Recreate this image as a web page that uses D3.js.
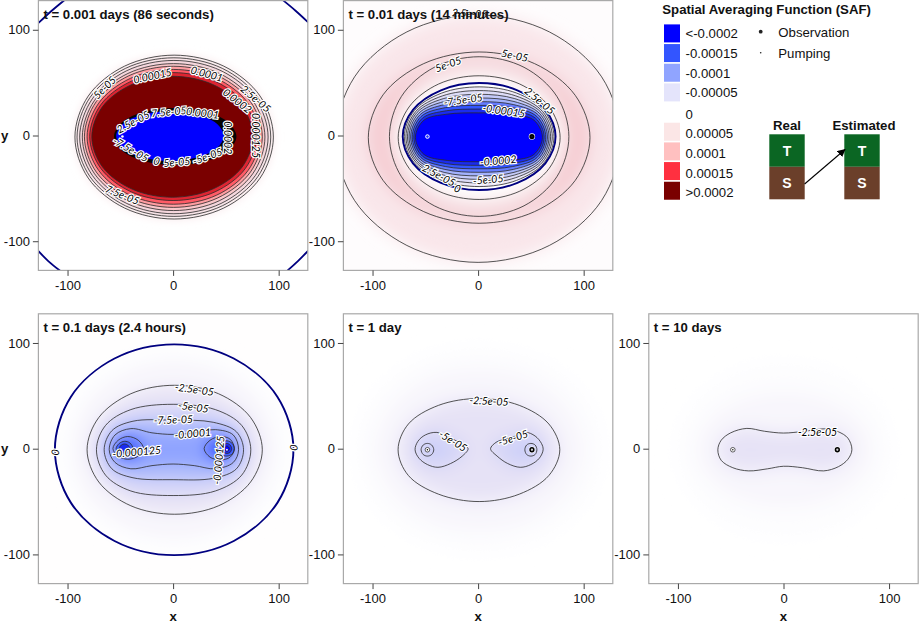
<!DOCTYPE html>
<html>
<head>
<meta charset="utf-8">
<script src="https://cdn.jsdelivr.net/npm/d3@7"></script>
<style>
  html, body { margin: 0; padding: 0; background: #fff; }
  svg { display: block; }
  text { font-family: "Liberation Sans", Arial, sans-serif; fill: #111; }
  .clabel { font-family: Lato, sans-serif; font-style: italic; font-size: 10.5px; fill: #000;
            stroke: #fff; stroke-width: 2.4px; paint-order: stroke; text-anchor: middle; dominant-baseline: central; }
  .tick text { font-size: 13px; }
</style>
</head>
<body>
<div id="chart"></div>
<script>
// axis
const xyDomain = [-127.6, 127.6];
const tickValues = [-100, 0, 100];

// legend
const legendLevels = ['<-0.0002', '-0.00015', '-0.0001', '-0.00005', '0', '0.00005', '0.0001', '0.00015', '>0.0002'];
const legendColors = ['#0000ff', '#3355ff', '#90a4ff', '#e4e4fb', '#ffffff', '#fbe6e6', '#ffc0c0', '#ff3040', '#7a0000'];

// SAF level -> colour for the field
const fieldLevels = [-2e-4, -1.75e-4, -1.5e-4, -1.25e-4, -1e-4, -7.5e-5, -5e-5, -2.5e-5, 0, 2.5e-5, 5e-5, 7.5e-5, 1e-4, 1.5e-4, 2e-4];
const fieldColors = ['#0000ff', '#1a2bf0', '#3355ff', '#5a72ff', '#95a8ff', '#b8c2fa', '#d6d6f8', '#e8e4f6', '#ffffff', '#f9e8eb', '#f5dbe0', '#f2cfd6', '#ffc0c0', '#ff3040', '#7a0000'];

// wells
const pumpingWell = [-48, -1];
const obsWell = [51, -1];

// t = 0.001 days, contours as [x, y]
const a25 = [[95,-1.5],[82.4,37.3],[48,65.6],[1,76],[-46,65.6],[-80.4,37.3],[-93,-1.5],[-80.4,-40.3],[-46,-68.6],[1,-79],[48,-68.6],[82.4,-40.3]];
const a50 = [[92.5,-1.5],[80.2,36],[46.6,63.5],[.75,73.5],[-45.1,63.5],[-78.7,36],[-91,-1.5],[-78.7,-39],[-45.1,-66.5],[.75,-76.5],[46.6,-66.5],[80.2,-39]];
const a75 = [[90,-1.5],[78,34.75],[45.4,61.3],[.75,71],[-43.9,61.3],[-76.5,34.75],[-88.5,-1.5],[-76.5,-37.75],[-43.9,-64.3],[.75,-74],[45.4,-64.3],[78,-37.75]];
const a100 = [[87,-1.5],[75.4,33.25],[43.75,58.7],[.5,68],[-42.75,58.7],[-74.4,33.25],[-86,-1.5],[-74.4,-36.25],[-42.75,-61.7],[.5,-71],[43.75,-61.7],[75.4,-36.25]];
const a125 = [[84.5,-1.25],[73.25,32.1],[42.35,56.55],[.25,65.5],[-41.85,56.55],[-72.75,32.1],[-84,-1.25],[-72.75,-34.6],[-41.85,-59],[.25,-68],[42.35,-59],[73.25,-34.6]];
const a150 = [[82,-1.25],[71,30.6],[41.1,54],[.25,62.5],[-40.6,54],[-70.5,30.6],[-81.5,-1.25],[-70.5,-33.1],[-40.6,-56.5],[.25,-65],[41.1,-56.5],[71,-33.1]];
const a175 = [[79,-1],[68.4,29.25],[39.5,51.4],[0,59.5],[-39.5,51.4],[-68.4,29.25],[-79,-1],[-68.4,-31.25],[-39.5,-53.4],[0,-61.5],[39.5,-53.4],[68.4,-31.25]];
const a200 = [[75.6,-1.2],[65.4,27.4],[37.45,48.3],[-.7,56],[-38.85,48.3],[-66.8,27.4],[-77,-1.2],[-66.8,-29.8],[-38.85,-50.7],[-.7,-58.4],[37.45,-50.7],[65.4,-29.8]];
const aRing = [[60,-1],[52.2,12.5],[31,22.4],[2,26],[-27,22.4],[-48.2,12.5],[-56,-1],[-48.2,-14.5],[-27,-24.4],[2,-28],[31,-24.4],[52.2,-14.5]];
const aCore = [[48,-.5],[41.2,11.25],[22.5,19.85],[-3,23],[-28.5,19.85],[-47.2,11.25],[-54,-.5],[-47.2,-12.25],[-28.5,-20.85],[-3,-24],[22.5,-20.85],[41.2,-12.25]];
const aCornerTL = [[-128,106],[-115,118],[-103,128]];
const aCornerTR = [[104,128],[116,118],[128,107]];
const aCornerBL = [[-128,-109],[-118,-119],[-107,-128]];
const aCornerBR = [[108,-128],[118,-119],[128,-109]];

// t = 0.01 days
const b25out = [[135,-3],[117,55.5],[67.5,98],[0,114],[-67.5,98],[-117,55.5],[-135,-3],[-117,-61.5],[-67.5,-104],[0,-120],[67.5,-104],[117,-61.5]];
const b50out = [[106,-2],[92,38],[53.5,68],[1,79],[-51.5,68],[-90,38.5],[-104,-2],[-90,-42.5],[-51.5,-72],[1,-83],[53.5,-72],[92,-42.5]];
const b50in = [[86,-1],[74.6,37],[43.5,64.5],[1,74.5],[-41.5,64.5],[-72.6,37],[-84,-1],[-72.6,-39],[-41.5,-66.5],[1,-76.5],[43.5,-66.5],[74.6,-39]];
const b25in = [[77.7,-2],[67.4,27],[39.4,48.7],[1,56.5],[-37.4,48.7],[-65.4,27],[-75.7,-2],[-65.4,-31],[-37.4,-52.7],[1,-60.5],[39.4,-52.7],[67.4,-31]];
const b0 = [[73.4,-1],[63.7,24.3],[37.2,42.8],[1,49.6],[-35.2,42.8],[-61.7,24.3],[-71.4,-1],[-61.7,-26.3],[-35.2,-44.8],[1,-51.6],[37.2,-44.8],[63.7,-26.3]];
const bm25 = [[71.9,-1.15],[62.4,23.6],[36.45,40.15],[1,46],[-34.45,40.15],[-60.4,23.6],[-69.9,-1.15],[-60.4,-25.9],[-34.45,-42.45],[1,-48.3],[36.45,-42.45],[62.4,-25.9]];
const bm50 = [[70.3,-1.2],[61,22.8],[35.6,37.5],[.95,42.5],[-33.7,37.5],[-59,22.8],[-68.4,-1.2],[-59,-25.2],[-33.7,-39.9],[.95,-44.9],[35.6,-39.9],[61,-25.2]];
const bm75 = [[68.7,-1.25],[59.6,21.9],[34.8,34.85],[.9,39],[-33,34.85],[-57.8,21.9],[-66.9,-1.25],[-57.8,-24.4],[-33,-37.35],[.9,-41.5],[34.8,-37.35],[59.6,-24.4]];
const bm100 = [[67.2,-1.35],[58.3,20.75],[34,32.15],[.9,35.5],[-32.2,32.15],[-56.5,20.75],[-65.4,-1.35],[-56.5,-23.45],[-32.2,-34.85],[.9,-38.2],[34,-34.85],[58.3,-23.45]];
const bm125 = [[65.7,-1.4],[57,19.5],[33.3,29.3],[.9,32],[-31.5,29.3],[-55.2,19.5],[-63.9,-1.4],[-55.2,-22.3],[-31.5,-32.1],[.9,-34.8],[33.3,-32.1],[57,-22.3]];
const bm150 = [[64.1,-1.5],[55.65,18],[32.45,26.4],[.85,28.5],[-30.75,26.4],[-54,18],[-62.4,-1.5],[-54,-21],[-30.75,-29.4],[.85,-31.5],[32.45,-29.4],[55.65,-21]];
const bm175 = [[62.6,-1.6],[54.3,16.4],[31.7,23.4],[.8,25],[-30.1,23.4],[-52.7,16.4],[-60.9,-1.6],[-52.7,-19.6],[-30.1,-26.6],[.8,-28.2],[31.7,-26.6],[54.3,-19.6]];
const bm200 = [[61,-1.7],[52.9,14.5],[30.9,20.2],[.8,21.4],[-29.3,20.2],[-51.3,14.5],[-59.4,-1.7],[-51.3,-17.9],[-29.3,-23.6],[.8,-24.8],[30.9,-23.6],[52.9,-17.9]];

// t = 0.1 days
const c0 = [[114,-1],[98.9,49],[57.5,85.3],[1,98.7],[-55.5,85.3],[-96.9,49],[-112,-1],[-96.9,-51],[-55.5,-87.3],[1,-100.7],[57.5,-87.3],[98.9,-51]];
const cGlow = [[98,-1],[85,42],[49,72],[1,83],[-47,72],[-83,42],[-96,-1],[-83,-44],[-47,-74],[1,-85],[49,-74],[85,-44]];
const cm25 = [[84.5,-1],[73.4,29.5],[43,52],[1.5,60],[-40,52],[-70.4,29.5],[-81.5,-1],[-70.4,-31.5],[-40,-54],[1.5,-62],[43,-54],[73.4,-31.5]];
const cm50 = [[73.6,-1],[65,22],[40,37],[0,42],[-40,37],[-64,22],[-72.6,-1],[-64,-25],[-40,-40],[0,-44.3],[40,-40],[65,-25]];
const cm75 = [[66.7,-1],[60,16],[38,25],[0,27],[-38,26],[-58,17],[-65.3,-1],[-58,-19],[-38,-27.5],[0,-29.3],[38,-28],[60,-19]];
const cm100 = [[62,-1],[57,13],[40,18],[20,15],[0,13.5],[-20,15],[-40,19],[-55,13],[-60.5,-1],[-55,-13],[-40,-19],[-20,-16],[0,-14.5],[20,-16],[40,-19],[57,-13]];
const cm125L = [[-28,0],[-33,8],[-43,11.5],[-52,8],[-57,0],[-52,-7],[-43,-10],[-33,-7]];
const cm125R = [[58,0],[54,9],[45,11.5],[35,8],[29.4,0],[35,-8],[45,-10.5],[54,-8]];
const cm150L = [[-38,0],[-41,5.5],[-46,7],[-51,5],[-54,0],[-51,-4.5],[-46,-6],[-41,-4.5]];
const cm150R = [[58,0],[56,5],[51,7.5],[45,5.5],[42,0],[45,-5.5],[51,-7],[56,-5]];
const cm175L = [[-41,0],[-43,3.5],[-46,4.5],[-49,3.5],[-51,0],[-49,-3],[-46,-4],[-43,-3]];
const cm175R = [[55.5,0],[54,3.5],[51,5],[48,3.5],[46.5,0],[48,-3.5],[51,-4.5],[54,-3.5]];
const cm200R = [[53.5,0],[51,2.5],[48.5,0],[51,-2.5]];

// t = 1 day
const dGlowOut = [[121,-1],[105,49],[61,86],[1,99],[-59,86],[-103,49],[-119,-1],[-103,-51],[-59,-88],[1,-101],[61,-88],[105,-51]];
const dGlowIn = [[101,-1],[87,38],[51,67],[1,77],[-49,67],[-85,38],[-99,-1],[-85,-40],[-49,-69],[1,-79],[51,-69],[87,-40]];
const dm25 = [[77.4,-1],[67,23.4],[39,41],[1,47.5],[-37.5,41],[-66,23.4],[-75.8,-1],[-66,-25.4],[-37.5,-43],[1,-50],[39,-43],[67,-25.4]];
const dm50L = [[-9.5,0],[-16,5],[-24,9],[-39,15.4],[-50,13],[-57,7],[-59.7,-1],[-56,-9],[-48,-15],[-38,-17.6],[-26,-14],[-15,-7]];
const dm50R = [[11.8,0],[17,6],[25,9],[33,11],[45,15.5],[54,12],[60,5],[61.6,-1],[58,-9],[50,-15],[40,-17.6],[28,-14],[18,-7]];
const dm75L = [[-42,-1],[-44,3.5],[-48,5],[-52,3.5],[-54,-1],[-52,-5.5],[-48,-7],[-44,-5.5]];
const dm75R = [[55.7,-1],[54,3.5],[50,5],[46,3.5],[44.3,-1],[46,-5.5],[50,-7],[54,-5.5]];

// t = 10 days
const eGlowOut = [[106,-1],[92,41],[53,73],[1,84],[-51,73],[-90,41],[-104,-1],[-90,-43],[-51,-75],[1,-86],[53,-75],[92,-43]];
const eGlowIn = [[85,-1],[73.6,26.5],[43,46.6],[1,54],[-41,46.6],[-71.6,26.5],[-83,-1],[-71.6,-28.5],[-41,-48.6],[1,-56],[43,-48.6],[73.6,-28.5]];
const em25 = [[64.8,-1],[61,10],[52,16],[41,18.8],[20,16.5],[0,14.8],[-18,16.5],[-34.7,19.2],[-50,15],[-59,8],[-62.2,-1],[-59,-11],[-48,-18],[-33,-21],[-15,-19],[0,-16.6],[18,-18],[38,-21],[52,-17],[61,-10]];

// contour labels: text, x, y, angle
const aLabels = [
  ['0.00015',-19.6,56.6,-12], ['0.0001',32,58.5,15], ['5e-05',-65,45.6,-45], ['2.5e-05',78.4,34.9,40],
  ['0.0002',61,33,38], ['0.000125',79,0,90], ['7.5e-05',-48,-56,22],
  ['2.5e-05',-38,13,-28], ['7.5e-05',-4,22.6,-5], ['0.0001',28,21.4,7], ['0.0002',52,-2.2,90],
  ['-7.5e-05',-40,-13,30], ['0',-15.5,-24,15], ['5e-05',3.5,-25,-5], ['-5e-05',32.5,-19.5,-20]
];
const bLabels = [
  ['2.5e-05',-8,115.7,3], ['5e-05',-28.4,67.6,-20], ['5e-05',34.8,75.8,12], ['2.5e-05',58.5,33,40],
  ['-7.5e-05',-14.2,34,-8], ['-0.00015',24.4,23.6,8], ['-0.0002',19,-23.6,-5], ['-5e-05',9.5,-41.5,-5],
  ['2.5e-05',-37,-37.4,28], ['0',-19.5,-50,20]
];
const cLabels = [
  ['-2.5e-05',20.2,56.3,8], ['-5e-05',19.3,39.6,8], ['-7.5e-05',.3,27.7,-2], ['-0.0001',18.6,14.5,-5],
  ['-0.000125',-34.4,-2.8,-5], ['-0.000125',43,-10.7,-85], ['0',-111.8,-3.4,-85], ['0',114,1,-85]
];
const dLabels = [['-2.5e-05',10.4,45.3,3], ['-5e-05',-23.7,7.5,32], ['-5e-05',33,10.4,-18]];
const eLabels = [['-2.5e-05',32.2,16,0]];

// one panel table built from the arrays above: soft = blurred shading, hard = sharp fill, lines = drawn contours
const panels = [
  { title: 't = 0.001 days (86 seconds)', left: 38.4, top: 0.6, blur: 5, base: 0, showY: true,
    soft: [[2.5e-5, a25]],
    hard: [[2e-5, a25], [3.5e-5, a50], [6e-5, a75], [9e-5, a100], [1.12e-4, a125], [1.35e-4, a150], [1.62e-4, a175], [2e-4, a200]],
    lines: [a25, a50, a75, a100, a125, a150, a175, a200], navy: [], arcs: [aCornerTL, aCornerTR, aCornerBL, aCornerBR],
    ring: aRing, core: aCore, labels: aLabels, wells: 'pumpOnly' },
  { title: 't = 0.01 days (14 minutes)', left: 343.4, top: 0.6, blur: 8, base: 3e-6, showY: false,
    soft: [[2.8e-5, b25out], [8e-5, b50out], [4.5e-5, b50in], [0, b25in]],
    hard: [[0, b0], [-2e-5, bm25], [-4e-5, bm50], [-6.5e-5, bm75], [-9e-5, bm100], [-1.2e-4, bm125], [-1.5e-4, bm150], [-1.75e-4, bm175], [-2e-4, bm200]],
    lines: [b25out, b50out, b50in, b25in, bm25, bm50, bm75, bm100, bm125, bm150, bm175, bm200], navy: [b0], arcs: [],
    labels: bLabels, wells: 'both' },
  { title: 't = 0.1 days (2.4 hours)', left: 38.4, top: 313.8, blur: 6.5, base: 1e-6, showY: true,
    soft: [[-2e-6, c0], [-8e-6, cGlow], [-2.4e-5, cm25], [-5e-5, cm50], [-8e-5, cm75], [-1.02e-4, cm100], [-1.4e-4, cm125L], [-1.4e-4, cm125R]],
    hard: [[-1.4e-4, cm150L], [-1.4e-4, cm150R], [-1.75e-4, cm175L], [-1.75e-4, cm175R], [-2e-4, cm200R]],
    lines: [cm25, cm50, cm75, cm100, cm125L, cm125R, cm150L, cm150R, cm175L, cm175R, cm200R], navy: [c0], arcs: [],
    labels: cLabels, wells: 'obsOnly' },
  { title: 't = 1 day', left: 343.4, top: 313.8, blur: 9, base: 0, showY: false,
    soft: [[-2e-6, dGlowOut], [-8e-6, dGlowIn], [-2.8e-5, dm25], [-5.5e-5, dm50L], [-5.5e-5, dm50R], [-7e-5, dm75L], [-7e-5, dm75R]],
    hard: [],
    lines: [dm25, dm50L, dm50R, dm75L, dm75R], navy: [], arcs: [],
    labels: dLabels, wells: 'both' },
  { title: 't = 10 days', left: 648.8, top: 313.8, blur: 9, base: 0, showY: false,
    soft: [[-2e-6, eGlowOut], [-8e-6, eGlowIn], [-2.8e-5, em25]],
    hard: [],
    lines: [em25], navy: [], arcs: [],
    labels: eLabels, wells: 'both' }
];

const plotW = 269.4, plotH = 269.8;

const svg = d3.select('#chart').append('svg').attr('width', 920).attr('height', 622);
const defs = svg.append('defs');

const fieldColor = d3.scaleLinear().domain(fieldLevels).range(fieldColors);
const closedLine = d3.line().curve(d3.curveCatmullRomClosed.alpha(0.5));
const openLine = d3.line().curve(d3.curveCatmullRom);

panels.forEach((p, i) => {
  const x = d3.scaleLinear().domain(xyDomain).range([p.left, p.left + plotW]);
  const y = d3.scaleLinear().domain(xyDomain).range([p.top + plotH, p.top]);
  const xy = pts => pts.map(d => [x(d[0]), y(d[1])]);

  defs.append('clipPath').attr('id', `clip${i}`).append('rect')
    .attr('x', p.left).attr('y', p.top).attr('width', plotW).attr('height', plotH);
  defs.append('filter').attr('id', `blur${i}`)
    .attr('filterUnits', 'userSpaceOnUse')
    .attr('x', p.left - 40).attr('y', p.top - 40).attr('width', plotW + 80).attr('height', plotH + 80)
    .append('feGaussianBlur').attr('stdDeviation', p.blur);

  const g = svg.append('g');
  const plot = g.append('g').attr('clip-path', `url(#clip${i})`);

  plot.append('rect').attr('x', p.left).attr('y', p.top).attr('width', plotW).attr('height', plotH)
    .attr('fill', fieldColor(p.base));

  // shading
  plot.append('g').attr('filter', `url(#blur${i})`)
    .selectAll('path').data(p.soft).enter().append('path')
    .attr('d', d => closedLine(xy(d[1])))
    .attr('fill', d => fieldColor(d[0]));

  plot.append('g').selectAll('path').data(p.hard).enter().append('path')
    .attr('d', d => closedLine(xy(d[1])))
    .attr('fill', d => fieldColor(d[0]));

  // the tight band around the core in the first panel
  if (p.ring) {
    plot.append('path').attr('d', closedLine(xy(p.ring))).attr('fill', '#050505');
    plot.append('path').attr('d', closedLine(xy(p.core))).attr('fill', '#0000ff');
  }

  // contours
  plot.append('g').selectAll('path').data(p.lines).enter().append('path')
    .attr('d', d => closedLine(xy(d)))
    .attr('fill', 'none').attr('stroke', '#2a2a2a').attr('stroke-width', 0.8);

  plot.append('g').selectAll('path').data(p.navy).enter().append('path')
    .attr('d', d => closedLine(xy(d)))
    .attr('fill', 'none').attr('stroke', '#000080').attr('stroke-width', 1.9);

  plot.append('g').selectAll('path').data(p.arcs).enter().append('path')
    .attr('d', d => openLine(xy(d)))
    .attr('fill', 'none').attr('stroke', '#000080').attr('stroke-width', 1.8);

  // labels on the contours
  plot.append('g').selectAll('text').data(p.labels).enter().append('text')
    .attr('class', 'clabel')
    .attr('transform', d => `translate(${x(d[1])},${y(d[2])}) rotate(${d[3]})`)
    .text(d => d[0]);

  // wells
  if (p.wells !== 'obsOnly') {
    const pump = plot.append('g').attr('transform', `translate(${x(pumpingWell[0])},${y(pumpingWell[1])})`);
    if (p.wells === 'pumpOnly') {
      pump.append('circle').attr('r', 1.3).attr('fill', '#fff');
    } else if (i === 1) {
      pump.append('circle').attr('r', 1.8).attr('fill', '#2233ff').attr('stroke', '#fff').attr('stroke-width', 1);
    } else {
      pump.append('circle').attr('r', 2.3).attr('fill', '#fff').attr('stroke', '#222').attr('stroke-width', 0.7);
      pump.append('circle').attr('r', 0.7).attr('fill', '#000');
    }
  }
  if (p.wells !== 'pumpOnly') {
    const obs = plot.append('g').attr('transform', `translate(${x(obsWell[0])},${y(obsWell[1])})`);
    if (p.wells === 'obsOnly') {
      obs.append('circle').attr('r', 0.9).attr('fill', '#fff');
    } else {
      obs.append('circle').attr('r', 3.2).attr('fill', '#fff');
      obs.append('circle').attr('r', 1.9).attr('fill', i === 1 ? '#111' : '#ccc').attr('stroke', '#000').attr('stroke-width', 1.5);
    }
  }

  g.append('rect').attr('x', p.left).attr('y', p.top).attr('width', plotW).attr('height', plotH)
    .attr('fill', 'none').attr('stroke', '#a9a9a9').attr('stroke-width', 1.2);

  // axes
  const xAxis = g.append('g').attr('transform', `translate(0,${p.top + plotH})`)
    .call(d3.axisBottom(x).tickValues(tickValues).tickSize(5.5).tickPadding(5).tickFormat(d => String(d)));
  const yAxis = g.append('g').attr('transform', `translate(${p.left},0)`)
    .call(d3.axisLeft(y).tickValues(tickValues).tickSize(5.5).tickPadding(3).tickFormat(d => String(d)));
  xAxis.select('.domain').remove();
  yAxis.select('.domain').remove();
  svg.selectAll('.tick line').attr('stroke', '#444');

  g.append('text').attr('x', p.left + 5).attr('y', p.top + 18)
    .attr('font-size', 13.2).attr('font-weight', 'bold').text(p.title);

  if (p.top > 100) {
    g.append('text').attr('x', x(0)).attr('y', 620.5).attr('text-anchor', 'middle')
      .attr('font-size', 13.2).attr('font-weight', 'bold').text('x');
  }
  if (p.showY) {
    g.append('text').attr('x', 1).attr('y', y(0) + 4.5)
      .attr('font-size', 13.2).attr('font-weight', 'bold').text('y');
  }
});

// legend
const legend = svg.append('g');
legend.append('text').attr('x', 662.3).attr('y', 13.5)
  .attr('font-size', 13.2).attr('font-weight', 'bold').text('Spatial Averaging Function (SAF)');

const rowY = d3.scaleBand().domain(d3.range(legendLevels.length)).range([23.6, 200.6]);
legend.selectAll('.swatch').data(legendColors).enter().append('rect')
  .attr('class', 'swatch')
  .attr('x', 664).attr('y', (d, i) => rowY(i) + 0.8)
  .attr('width', 16).attr('height', 18)
  .attr('fill', d => d);
legend.selectAll('.lev').data(legendLevels).enter().append('text')
  .attr('class', 'lev')
  .attr('x', 685.5).attr('y', (d, i) => rowY(i) + rowY.bandwidth() / 2 + 4.5 + (i > 3 ? 2 : 0.5))
  .attr('font-size', 13.2).text(d => d);

legend.append('circle').attr('cx', 760.7).attr('cy', 31.7).attr('r', 1.9).attr('fill', '#222');
legend.append('circle').attr('cx', 760.7).attr('cy', 52.7).attr('r', 0.8).attr('fill', '#222');
legend.append('text').attr('x', 778.3).attr('y', 36.8).attr('font-size', 13.2).text('Observation');
legend.append('text').attr('x', 778.3).attr('y', 57.5).attr('font-size', 13.2).text('Pumping');

// real vs estimated boxes
const boxTitles = ['Real', 'Estimated'];
const boxLetters = ['T', 'S'];
const boxColors = ['#0b6623', '#6b3f2a'];
const boxLeft = [769.3, 844.3];
boxTitles.forEach((t, i) => {
  legend.append('text').attr('x', boxLeft[i] + 19.7 * (i === 0 ? 0.9 : 1)).attr('y', 130).attr('text-anchor', 'middle')
    .attr('font-size', 13.2).attr('font-weight', 'bold').text(t);
  boxLetters.forEach((l, j) => {
    legend.append('rect').attr('x', boxLeft[i]).attr('y', 134.3 + j * 32.5)
      .attr('width', 35.4).attr('height', 32.5).attr('fill', boxColors[j]);
    legend.append('text').attr('x', boxLeft[i] + 17.7).attr('y', 156 + j * 32)
      .attr('text-anchor', 'middle').attr('font-size', 14).attr('font-weight', 'bold')
      .style('fill', '#fff').text(l);
  });
});

defs.append('marker').attr('id', 'arrow').attr('viewBox', '0 0 10 10')
  .attr('refX', 9).attr('refY', 5).attr('markerWidth', 8).attr('markerHeight', 8).attr('orient', 'auto')
  .attr('markerUnits', 'userSpaceOnUse')
  .append('path').attr('d', 'M0,0L10,5L0,10z').attr('fill', '#000');
legend.append('line').attr('x1', 804.6).attr('y1', 184).attr('x2', 845).attr('y2', 149.5)
  .attr('stroke', '#000').attr('stroke-width', 1.1).attr('marker-end', 'url(#arrow)');
</script>
</body>
</html>
